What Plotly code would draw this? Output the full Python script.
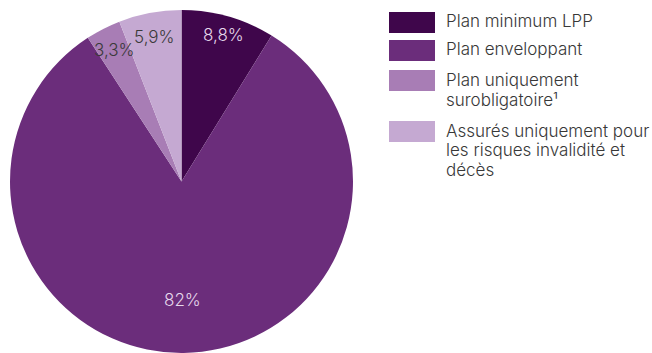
import math
import plotly.graph_objects as go

categories = ["Plan minimum LPP", "Plan enveloppant", "Plan uniquement surobligatoire¹",
              "Assurés uniquement pour les risques invalidité et décès"]
values = [8.8, 82.0, 3.3, 5.9]
value_labels = ["8,8%", "82%", "3,3%", "5,9%"]
legend_lines = [["Plan minimum LPP"], ["Plan enveloppant"],
                ["Plan uniquement", "surobligatoire¹"],
                ["Assurés uniquement pour", "les risques invalidité et", "décès"]]

colors = ["#3f064b", "#6b2d7b", "#a87db5", "#c5a9d2"]
label_colors = ["#e6d8ec", "#e6d8ec", "#3a3a3a", "#3a3a3a"]
label_r = [0.89, 0.69, 0.86, 0.86]

W, H = 652, 353
cx, cy, R = 181.5, 181.5, 171.5
FONT = "Inter"

fig = go.Figure(go.Pie(
    labels=categories, values=values, sort=False, direction="clockwise", rotation=0,
    marker=dict(colors=colors, line=dict(width=0)), textinfo="none", hoverinfo="label+percent",
    showlegend=False,
    domain=dict(x=[(cx - R) / W, (cx + R) / W], y=[0, (2 * R) / H]),
))

ann = []
total = sum(values)
cum = 0
for v, lab, col, rr in zip(values, value_labels, label_colors, label_r):
    mid = (cum + v / 2) / total * 2 * math.pi
    cum += v
    px = cx + rr * R * math.sin(mid)
    py = cy - rr * R * math.cos(mid)
    ann.append(dict(x=px / W, y=1 - py / H, xref="paper", yref="paper", text=lab, showarrow=False,
                    xanchor="center", yanchor="middle",
                    font=dict(family=FONT, size=17, color=col, weight=300)))

shapes = []
sw_tops = [12, 40, 70, 121]
baselines = [[27.3], [55], [86, 106], [136.7, 156, 175.7]]
for i, (top, lines) in enumerate(zip(sw_tops, legend_lines)):
    shapes.append(dict(type="rect", xref="paper", yref="paper", x0=389 / W, x1=435 / W,
                       y0=1 - top / H, y1=1 - (top + 21) / H, fillcolor=colors[i], line=dict(width=0)))
    for line, b in zip(lines, baselines[i]):
        ann.append(dict(x=444 / W, y=1 - (b - 6) / H, xref="paper", yref="paper", text=line,
                        showarrow=False, xanchor="left", yanchor="middle",
                        font=dict(family=FONT, size=17, color="#383838", weight=300)))

fig.update_layout(width=W, height=H, margin=dict(l=0, r=0, t=0, b=0),
                  paper_bgcolor="white", plot_bgcolor="white",
                  annotations=ann, shapes=shapes)
fig.write_html("out.html")
